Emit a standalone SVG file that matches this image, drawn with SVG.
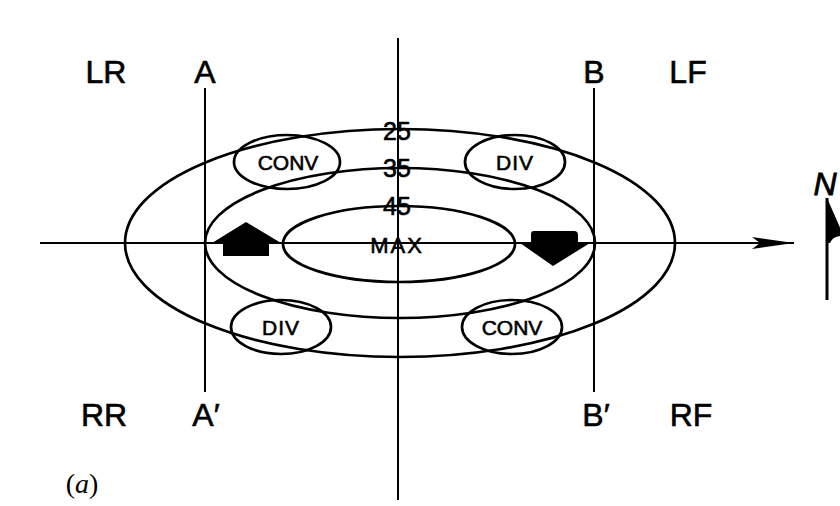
<svg xmlns="http://www.w3.org/2000/svg" width="840" height="506" viewBox="0 0 840 506">
<style>
.ln{stroke:#000;stroke-width:2;fill:none}
.el{stroke:#000;stroke-width:2.7;fill:none}
.t{font-family:"Liberation Sans",Arial,sans-serif;fill:#000;stroke:#000;stroke-width:0.6;text-anchor:middle}
.big{font-size:32px}
.num{font-size:25px}
.sm{font-size:21px}
</style>
<defs>
<marker id="ah" markerWidth="42" markerHeight="14" refX="42" refY="7" orient="auto" markerUnits="userSpaceOnUse">
<path d="M0,1 L42,7 L0,13 L8,7 Z" fill="#000"/>
</marker>
</defs>
<rect width="840" height="506" fill="#fff"/>
<g id="connectors">
<line class="ln" x1="40" y1="243" x2="794" y2="243" marker-end="url(#ah)"/>
<line class="ln" x1="398" y1="38" x2="398" y2="500"/>
<line class="ln" x1="205" y1="88" x2="205" y2="392"/>
<line class="ln" x1="594" y1="88" x2="594" y2="392"/>
</g>
<g id="contour25">
<ellipse class="el" cx="400" cy="243" rx="275" ry="114"/>
<text class="t num" x="397" y="140">25</text>
</g>
<g id="contour35">
<ellipse class="el" cx="400" cy="243" rx="195" ry="75"/>
<text class="t num" x="397" y="177">35</text>
</g>
<g id="contour45">
<ellipse class="el" cx="399" cy="244" rx="116" ry="38"/>
<text class="t num" x="397" y="215">45</text>
<text class="t" style="font-size:22px;letter-spacing:2px" x="397" y="253">MAX</text>
</g>
<g id="conv-tl">
<ellipse class="el" cx="287" cy="162" rx="53" ry="27"/>
<text class="t sm" x="288" y="170">CONV</text>
</g>
<g id="div-tr">
<ellipse class="el" cx="515" cy="162" rx="50" ry="27"/>
<text class="t sm" x="515" y="170" style="letter-spacing:1px">DIV</text>
</g>
<g id="div-bl">
<ellipse class="el" cx="281" cy="327" rx="50" ry="27"/>
<text class="t sm" x="281" y="335" style="letter-spacing:1px">DIV</text>
</g>
<g id="conv-br">
<ellipse class="el" cx="512" cy="327" rx="50" ry="27"/>
<text class="t sm" x="512" y="335">CONV</text>
</g>
<g id="arrow-up">
<path d="M246,222 L281,243 L269,243 L269,256 L223,256 L223,243 L212,243 Z" fill="#000"/>
</g>
<g id="arrow-down">
<path d="M534,231 L574,231 Q578,231 578,235 L578,243 L590,243 L553,266 L520,243 L531,243 L531,234 Q531,231 534,231 Z" fill="#000"/>
</g>
<g id="labels">
<text class="t big" x="106" y="83">LR</text>
<text class="t big" x="205" y="83">A</text>
<text class="t big" x="594" y="83">B</text>
<text class="t big" x="688" y="83">LF</text>
<text class="t big" x="104" y="426">RR</text>
<text class="t big" x="206" y="426">A′</text>
<text class="t big" x="596" y="426">B′</text>
<text class="t big" x="691" y="426">RF</text>
<text x="82" y="493" style="font-family:'Liberation Serif',serif;font-size:28px;text-anchor:middle">(<tspan font-style="italic">a</tspan>)</text>
</g>
<g id="north">
<line x1="827" y1="198" x2="827" y2="300" stroke="#000" stroke-width="3"/>
<path d="M827,198 L842,232 L842,236 Q833,236 830,243 L827,243 Z" fill="#000"/>
<text x="825" y="195" style="font-family:'Liberation Sans',sans-serif;font-size:32px;font-style:italic;text-anchor:middle;stroke:#000;stroke-width:0.8">N</text>
</g>
</svg>
